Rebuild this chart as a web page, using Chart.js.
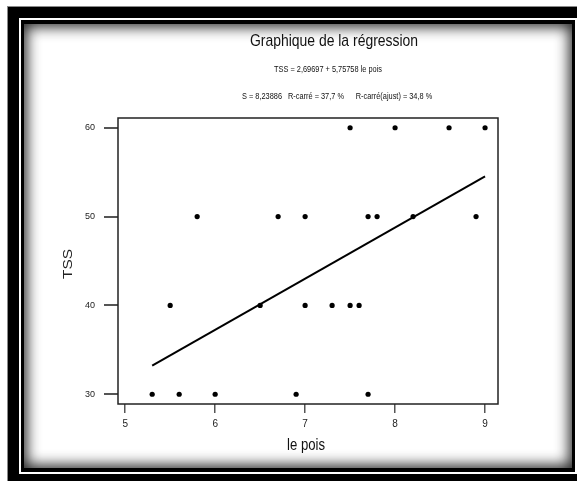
<!DOCTYPE html>
<html lang="fr">
<head>
<meta charset="utf-8">
<title>Graphique de la régression</title>
<script src="https://cdn.jsdelivr.net/npm/chart.js@4/dist/chart.umd.min.js"></script>
<style>
  html, body { margin: 0; padding: 0; width: 577px; height: 481px; overflow: hidden; background: #fff; }
  .cadre-ext { position: absolute; left: 8px; top: 7px; width: 640px; height: 540px; background: #000; box-shadow: -1px -1px 0 #8a8a8a; }
  .cadre-blanc { position: absolute; left: 19px; top: 18px; width: 640px; height: 456px; background: #fff; }
  .cadre-int { position: absolute; left: 21px; top: 20px; width: 554px; height: 452px; box-sizing: border-box;
               border-style: solid; border-color: #000; border-width: 4px 3px 4px 3px; background: #fff;
               box-shadow: inset 0 0 14px 3px rgba(0,0,0,0.85); }
  #graphique { position: absolute; left: 0; top: 0; }
</style>
</head>
<body>
<div class="cadre-ext"></div>
<div class="cadre-blanc"></div>
<div class="cadre-int"></div>
<canvas id="graphique" width="577" height="481"></canvas>
<script>
// Observations : le pois (x) et TSS (y)
const lePois = [5.3, 5.6, 6.0, 6.9, 7.7,
                5.5, 6.5, 7.0, 7.3, 7.5, 7.6,
                5.8, 6.7, 7.0, 7.7, 7.8, 8.2, 8.9,
                7.5, 8.0, 8.6, 9.0];
const tss    = [30, 30, 30, 30, 30,
                40, 40, 40, 40, 40, 40,
                50, 50, 50, 50, 50, 50, 50,
                60, 60, 60, 60];

// Droite ajustée : TSS = ordonnee + pente * le pois
const ordonnee = 2.69697;
const pente = 5.75758;
const etendueDroite = [5.3, 9.0];

// Graduations
const ticksX = [5, 6, 7, 8, 9];
const ticksY = [30, 40, 50, 60];

// Textes
const titre = 'Graphique de la régression';
const equation = 'TSS = 2,69697 + 5,75758 le pois';
const statistiques = ['S = 8,23886', 'R-carré = 37,7 %', 'R-carré(ajust) = 34,8 %'];
const titreX = 'le pois';
const titreY = 'TSS';

const NARROW = "'Liberation Sans Narrow', 'Arial Narrow', 'Liberation Sans', Arial, sans-serif";

// Compression horizontale si la police étroite n'est pas disponible
const mesure = document.createElement('canvas').getContext('2d');
mesure.font = "40px 'Liberation Sans Narrow', 'Liberation Sans'";
const wN = mesure.measureText('Graphique').width;
mesure.font = "40px 'Liberation Sans'";
const wR = mesure.measureText('Graphique').width;
const compression = (wN / wR) < 0.9 ? 1 : 0.82;

function texte(ctx, str, cx, by, taille, opts) {
  const o = opts || {};
  ctx.save();
  ctx.font = taille + 'px ' + NARROW;
  ctx.fillStyle = o.color || '#111';
  ctx.textAlign = 'center';
  ctx.textBaseline = o.baseline || 'alphabetic';
  ctx.translate(cx, by);
  if (o.rotation) ctx.rotate(o.rotation);
  ctx.scale(compression * (o.stretch || 1), 1);
  ctx.fillText(str, 0, 0);
  ctx.restore();
}

const habillage = {
  id: 'habillage',
  afterDraw(chart) {
    const { ctx, chartArea: a } = chart;
    ctx.save();
    ctx.strokeStyle = '#222';
    ctx.lineWidth = 1.5;
    ctx.strokeRect(a.left, a.top, a.right - a.left, a.bottom - a.top);
    ctx.restore();
    texte(ctx, titre, 334, 46, 17);
    texte(ctx, equation, 328, 72, 9);
    texte(ctx, statistiques[0], 262, 99, 9);
    texte(ctx, statistiques[1], 316, 99, 9);
    texte(ctx, statistiques[2], 394, 99, 9);
    // Titres des axes
    texte(ctx, titreX, (a.left + a.right) / 2 - 2, 450, 16);
    texte(ctx, titreY, 68, (a.top + a.bottom) / 2 + 3, 13,
          { rotation: -Math.PI / 2, baseline: 'middle', stretch: 1.45, color: '#222' });
  }
};

new Chart(document.getElementById('graphique'), {
  type: 'scatter',
  data: {
    datasets: [
      {
        label: 'Observations',
        data: lePois.map((x, i) => ({ x: x, y: tss[i] })),
        pointRadius: 2.6,
        pointBackgroundColor: '#000',
        pointBorderWidth: 0,
        showLine: false
      },
      {
        label: 'Ajustement',
        data: etendueDroite.map(x => ({ x: x, y: ordonnee + pente * x })),
        showLine: true,
        borderColor: '#000',
        borderWidth: 2,
        pointRadius: 0
      }
    ]
  },
  options: {
    responsive: false,
    animation: false,
    devicePixelRatio: 1,
    layout: { padding: { left: 0, top: 118, right: 79, bottom: 0 } },
    plugins: { legend: { display: false }, tooltip: { enabled: false } },
    scales: {
      x: {
        type: 'linear',
        min: 4.92,
        max: 9.144,
        afterBuildTicks: s => { s.ticks = ticksX.map(v => ({ value: v })); },
        afterFit: s => { s.height = 77; },
        border: { display: false },
        grid: { drawOnChartArea: false, drawTicks: true, tickLength: 9, color: '#555', lineWidth: 1.5 },
        ticks: { font: { family: NARROW, size: 10 }, color: '#222', padding: 5, maxRotation: 0,
                 callback: v => String(v) },
        title: { display: false }
      },
      y: {
        type: 'linear',
        min: 28.9,
        max: 61.1,
        afterBuildTicks: s => { s.ticks = ticksY.map(v => ({ value: v })); },
        afterFit: s => { s.width = 118; },
        border: { display: false },
        grid: { drawOnChartArea: false, drawTicks: true, tickLength: 14, color: '#555', lineWidth: 2 },
        ticks: { font: { family: NARROW, size: 9 }, color: '#222', padding: 9,
                 callback: v => String(v) },
        title: { display: false }
      }
    }
  },
  plugins: [habillage]
});
</script>
</body>
</html>
